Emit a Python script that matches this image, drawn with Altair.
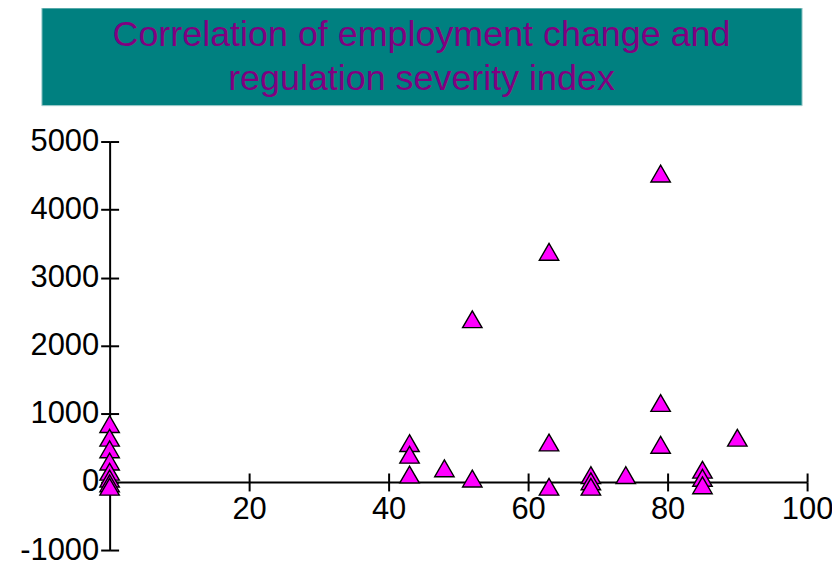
import altair as alt
import pandas as pd

title_lines = ["Correlation of employment change and", "regulation severity index"]

reg_index = [0, 0, 0, 0, 0, 0, 0, 0,
             43, 43, 43, 48, 52, 52, 63, 63, 63, 69, 69, 69, 74,
             79, 79, 79, 85, 85, 85, 90]
emp_change = [850, 650, 480, 300, 150, 50, -20, -70,
              570, 400, 110, 200, 2390, 50, 3380, 580, -70, 100, 10, -70, 100,
              4530, 1160, 545, 180, 60, -50, 650]

x_ticks = [20, 40, 60, 80, 100]
y_ticks = [-1000, 0, 1000, 2000, 3000, 4000, 5000]
x_domain = [0, 100]
y_domain = [-1000, 5000]

W, H = 700, 410
y0 = H * (y_domain[1] - 0) / (y_domain[1] - y_domain[0])

df = pd.DataFrame({"x": reg_index, "y": emp_change})
one = pd.DataFrame({"a": [0]})

xscale = alt.Scale(domain=x_domain, nice=False, zero=False)
yscale = alt.Scale(domain=y_domain, nice=False, zero=False)

common = dict(grid=False, title=None, tickColor="black", tickWidth=2, tickSize=9,
              domainColor="black", domainWidth=2)
lab = dict(labelFont="Liberation Sans", labelFontSize=31, labelColor="black",
           labelFlush=False, labelOverlap=False, labelExpr="'' + datum.value")

x_axis = alt.Axis(orient="bottom", values=x_ticks, offset=-(H - y0), labelPadding=4,
                  **common, **lab)
y_axis = alt.Axis(orient="left", values=y_ticks, labelPadding=2, **common, **lab)
x_axis2 = alt.Axis(orient="top", values=x_ticks, offset=-y0, labels=False, domain=False,
                   **common)
y_axis2 = alt.Axis(orient="right", values=y_ticks, offset=-W, labels=False, domain=False,
                   **common)

points = alt.Chart(df).mark_point(
    shape="triangle-up", filled=True, fill="#ff00ff", stroke="black",
    strokeWidth=1.4, size=380, opacity=1
).encode(
    x=alt.X("x:Q", scale=xscale, axis=x_axis),
    y=alt.Y("y:Q", scale=yscale, axis=y_axis),
)

cross_ticks = alt.Chart(df).mark_point(opacity=0).encode(
    x=alt.X("x:Q", scale=xscale, axis=x_axis2),
    y=alt.Y("y:Q", scale=yscale, axis=y_axis2),
)

box = alt.Chart(one).mark_rect(fill="#008080", stroke="#a8d0d0", strokeWidth=1).encode(
    x=alt.value(-68), x2=alt.value(695), y=alt.value(-134), y2=alt.value(-36)
)
title = alt.Chart(one).mark_text(
    text=title_lines, font="Liberation Sans", fontSize=36, color="#800080",
    lineHeight=44, align="center", baseline="middle"
).encode(x=alt.value(313), y=alt.value(-107))

chart = alt.layer(box, title, cross_ticks, points).resolve_axis(
    x="independent", y="independent"
).properties(
    width=W, height=H,
    padding={"left": 102, "top": 133, "right": 25, "bottom": 15},
    autosize=alt.AutoSizeParams(type="none"),
    background="white",
).configure_view(stroke=None)

chart.save("out.html", embed_options={"renderer": "svg", "actions": False})
